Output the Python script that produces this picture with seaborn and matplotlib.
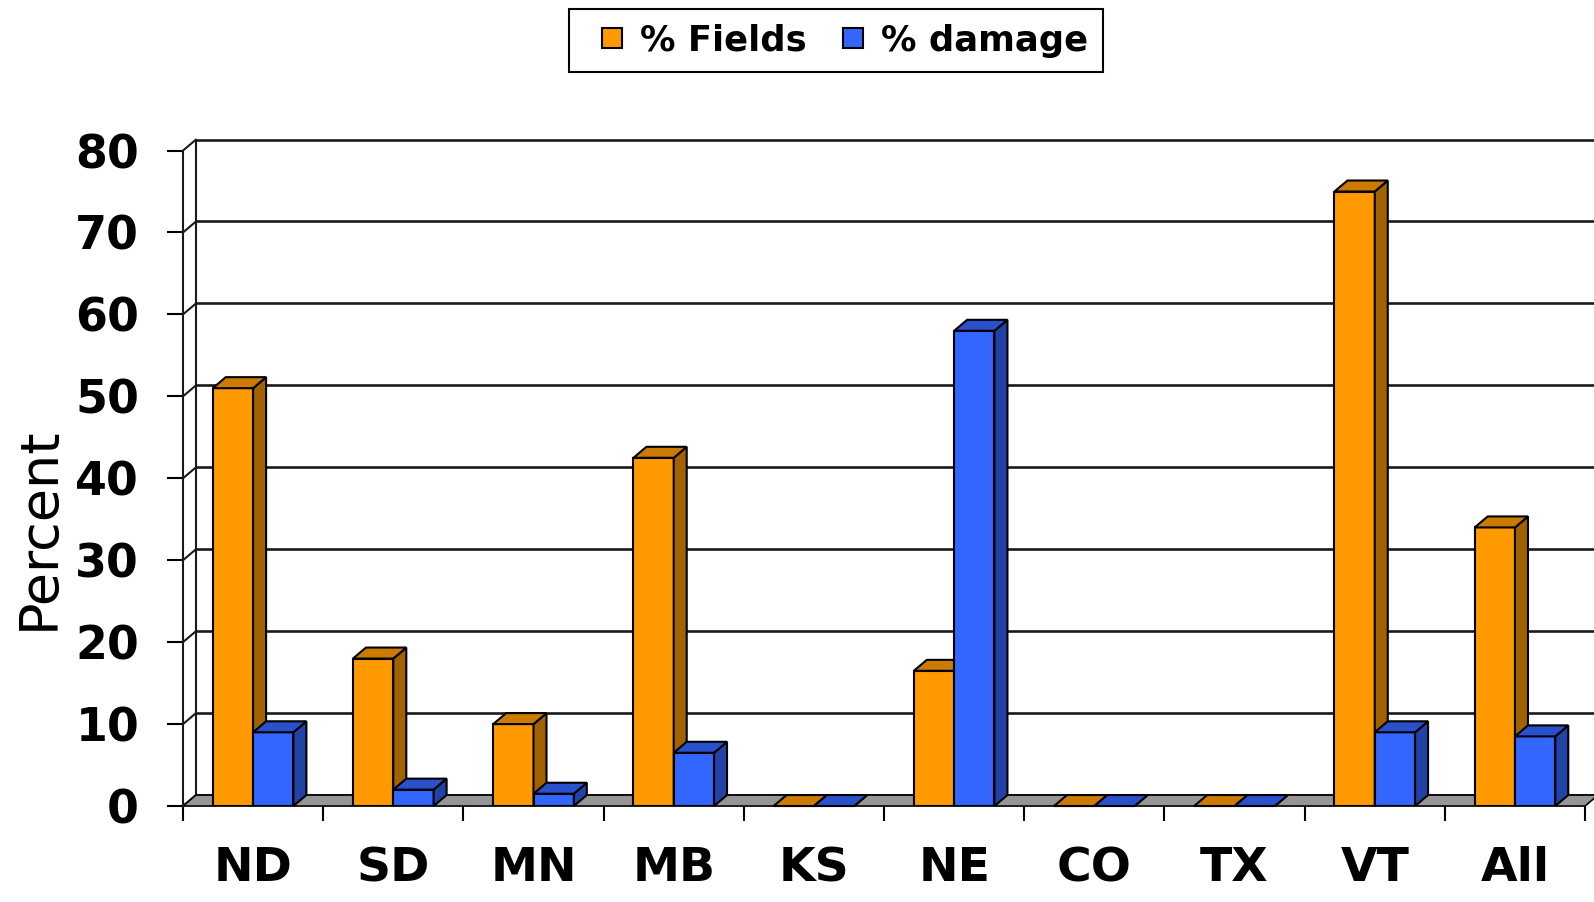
import matplotlib
matplotlib.use('Agg')
import matplotlib.pyplot as plt
import numpy as np
import pandas as pd
import seaborn as sns
from matplotlib.lines import Line2D
from matplotlib.patches import Polygon


states = ['ND', 'SD', 'MN', 'MB', 'KS', 'NE', 'CO', 'TX', 'VT', 'All']
pct_fields = [51, 18, 10, 42.5, 0, 16.5, 0, 0, 75, 34]
pct_damage = [9, 2, 1.5, 6.5, 0, 58, 0, 0, 9, 8.5]
series = ['% Fields', '% damage']
y_ticks = [0, 10, 20, 30, 40, 50, 60, 70, 80]

front_colors = ['#FF9900', '#3366FF']
side_colors = ['#A36200', '#2142A6']
top_colors = ['#CC7A00', '#2A50CC']

# fake 3d depth, in pixels
DEPTH_X = 13
DEPTH_Y = 11


df = pd.DataFrame({
  'state': states * 2,
  'series': [series[0]] * len(states) + [series[1]] * len(states),
  'value': pct_fields + pct_damage,
})

sns.set_theme(style='white')
plt.rcParams['font.family'] = ['DejaVu Sans']
plt.rcParams.update({'text.color': 'black', 'xtick.color': 'black',
                     'ytick.color': 'black', 'axes.labelcolor': 'black'})

fig = plt.figure(figsize=(15.94, 9.02), dpi=100)
ax = fig.add_axes([0.1148, 0.1064, 0.8796, 0.7267])

sns.barplot(data=df, x='state', y='value', hue='series', palette=front_colors,
            saturation=1, width=0.575, edgecolor='black', linewidth=1.5,
            errorbar=None, legend=False, ax=ax)

ax.set_xlim(-0.5, len(states) - 0.5)
ax.set_ylim(0, 80)
fig.canvas.draw()
bbox = ax.get_window_extent()
ddx = DEPTH_X * len(states) / bbox.width
ddy = DEPTH_Y * 80 / bbox.height
x_lo, x_hi = ax.get_xlim()
line_c = '#1a1a1a'

# floor
ax.add_patch(Polygon([(x_lo, 0), (x_hi, 0), (x_hi + ddx, ddy), (x_lo + ddx, ddy)],
                     closed=True, facecolor='#969696', edgecolor='black', lw=1.2,
                     zorder=1.5, clip_on=False))

# back wall grid and side wall
for v in y_ticks:
  ax.plot([x_lo + ddx, x_hi + ddx], [v + ddy, v + ddy], color=line_c, lw=1.9,
          zorder=1, clip_on=False)
  ax.plot([x_lo, x_lo + ddx], [v, v + ddy], color=line_c, lw=1.5, zorder=1,
          clip_on=False)
ax.plot([x_lo + ddx, x_lo + ddx], [ddy, 80 + ddy], color=line_c, lw=1.5,
        zorder=1, clip_on=False)

# side and top faces of the bars
for k, cont in enumerate(ax.containers):
  for bar in cont:
    x0 = bar.get_x()
    w = bar.get_width()
    h = bar.get_height()
    bar.set_zorder(3 + k)
    side = Polygon([(x0 + w, 0), (x0 + w + ddx, ddy), (x0 + w + ddx, h + ddy), (x0 + w, h)],
                   closed=True, facecolor=side_colors[k], edgecolor='black', lw=1.5,
                   zorder=3.1 + k, clip_on=False)
    top = Polygon([(x0, h), (x0 + w, h), (x0 + w + ddx, h + ddy), (x0 + ddx, h + ddy)],
                  closed=True, facecolor=top_colors[k], edgecolor='black', lw=1.5,
                  zorder=3.2 + k, clip_on=False)
    ax.add_patch(side)
    ax.add_patch(top)

for s in ['top', 'right', 'bottom']:
  ax.spines[s].set_visible(False)
ax.spines['left'].set_color(line_c)
ax.spines['left'].set_linewidth(1.5)

ax.set_yticks(y_ticks)
ax.set_yticklabels([str(v) for v in y_ticks], fontsize=33, fontweight='bold')
ax.tick_params(axis='y', left=True, direction='out', length=11.5, width=1.5,
               color='black', pad=20)

ax.set_xticks(range(len(states)))
ax.set_xticklabels(states, fontsize=34, fontweight='bold')
ax.set_xticks(np.arange(-0.5, len(states), 1), minor=True)
ax.tick_params(axis='x', which='major', bottom=True, length=0, pad=29)
ax.tick_params(axis='x', which='minor', bottom=True, direction='out', length=11,
               width=1.5, color='black')

ax.set_xlabel('')
ax.set_ylabel('')
fig.text(0.0245, 0.414, 'Percent', rotation=90, fontsize=39, ha='center', va='center')

handles = [Line2D([], [], ls='none', marker='s', markersize=14.5, markerfacecolor=c,
                  markeredgecolor='black', markeredgewidth=1.5) for c in front_colors]
leg = fig.legend(handles, series, loc='center', bbox_to_anchor=(0.5245, 0.955), ncol=2,
                 frameon=True, fancybox=False, edgecolor='black', framealpha=1,
                 prop={'weight': 'bold', 'size': 25.5}, handlelength=1.6,
                 handletextpad=0.0, columnspacing=0.5, borderpad=0.4)
leg.get_frame().set_linewidth(1.5)

fig.savefig('out.png', dpi=100)
